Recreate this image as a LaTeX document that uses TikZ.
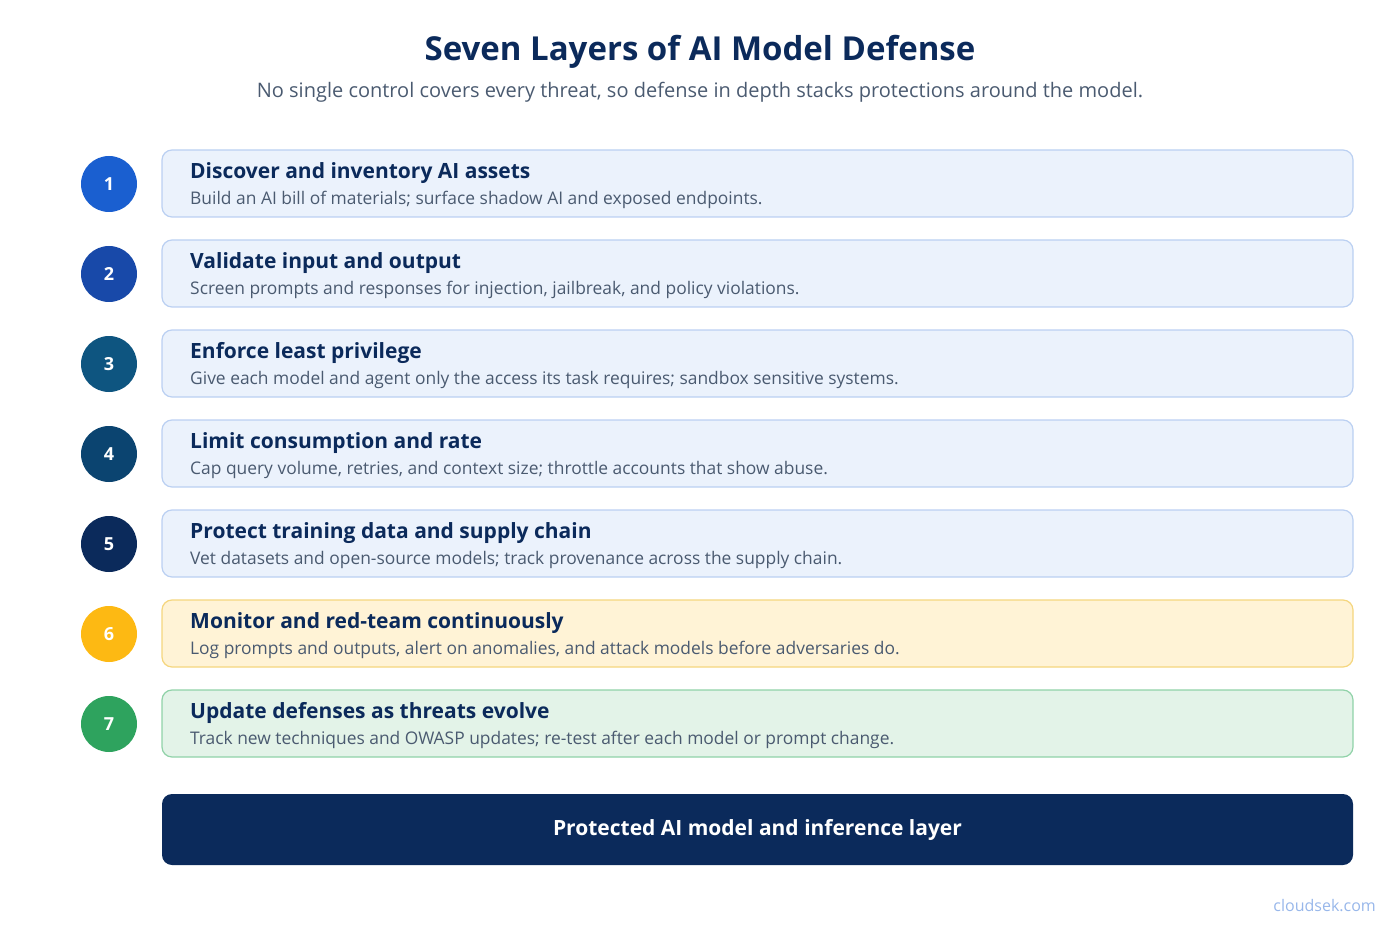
\documentclass[tikz,border=0pt]{standalone}
\usepackage{fontspec}
\setmainfont{Open Sans}
\definecolor{navy}{HTML}{0B2A5B}
\definecolor{bodyc}{HTML}{4A5A70}
\definecolor{bfill}{HTML}{EBF2FC}\definecolor{bdraw}{HTML}{BBD0F2}
\definecolor{yfill}{HTML}{FFF3D6}\definecolor{ydraw}{HTML}{F5D67E}
\definecolor{gfill}{HTML}{E3F3E8}\definecolor{gdraw}{HTML}{90D2A8}
\definecolor{c1}{HTML}{1A5FD0}\definecolor{c2}{HTML}{1849A9}\definecolor{c3}{HTML}{0E5580}
\definecolor{c4}{HTML}{0B4470}\definecolor{c5}{HTML}{0B2A5B}\definecolor{c6}{HTML}{FDB913}\definecolor{c7}{HTML}{2EA35E}
\begin{document}
\begin{tikzpicture}[x=1pt,y=-1pt,
 layerbox/.style={draw=#1draw,fill=#1fill,rounded corners=10pt,line width=1.2pt},
 numc/.style={circle,fill=#1,minimum size=56pt,inner sep=0pt,text=white,font=\fontsize{18}{20}\selectfont\bfseries},
 head/.style={anchor=west,text=navy,font=\fontsize{21}{24}\selectfont\bfseries,inner sep=0pt},
 sub/.style={anchor=west,text=bodyc,font=\fontsize{17.4}{20}\selectfont,inner sep=0pt}]
\useasboundingbox (0,0) rectangle (1400,933);
\node[text=navy,font=\fontsize{33}{36}\selectfont\bfseries] (title) at (700,52) {Seven Layers of AI Model Defense};
\node[text=bodyc,font=\fontsize{20}{22}\selectfont] (subtitle) at (700,92) {No single control covers every threat, so defense in depth stacks protections around the model.};
\foreach \i/\c/\k/\h/\s in {
 1/c1/b/{Discover and inventory AI assets}/{Build an AI bill of materials; surface shadow AI and exposed endpoints.},
 2/c2/b/{Validate input and output}/{Screen prompts and responses for injection, jailbreak, and policy violations.},
 3/c3/b/{Enforce least privilege}/{Give each model and agent only the access its task requires; sandbox sensitive systems.},
 4/c4/b/{Limit consumption and rate}/{Cap query volume, retries, and context size; throttle accounts that show abuse.},
 5/c5/b/{Protect training data and supply chain}/{Vet datasets and open-source models; track provenance across the supply chain.},
 6/c6/y/{Monitor and red-team continuously}/{Log prompts and outputs, alert on anomalies, and attack models before adversaries do.},
 7/c7/g/{Update defenses as threats evolve}/{Track new techniques and OWASP updates; re-test after each model or prompt change.}}{
 \pgfmathsetmacro{\yy}{150+90*(\i-1)}
 \draw[layerbox=\k] (162,\yy) rectangle (1353,\yy+67);
 \node[numc=\c] (n\i) at (109,\yy+34) {\i};
 \node[head] (h\i) at (190,\yy+23) {\h};
 \node[sub] (s\i) at (190,\yy+50) {\s};
}
\node[fill=navy,rounded corners=10pt,minimum width=1191pt,minimum height=71pt,text=white,font=\fontsize{21}{24}\selectfont\bfseries] (core) at (757.5,829.5) {Protected AI model and inference layer};
\node[anchor=east,text=c1!45,font=\fontsize{16}{18}\selectfont,inner sep=0pt] (brand) at (1376,906) {cloudsek.com};
\end{tikzpicture}
\end{document}
